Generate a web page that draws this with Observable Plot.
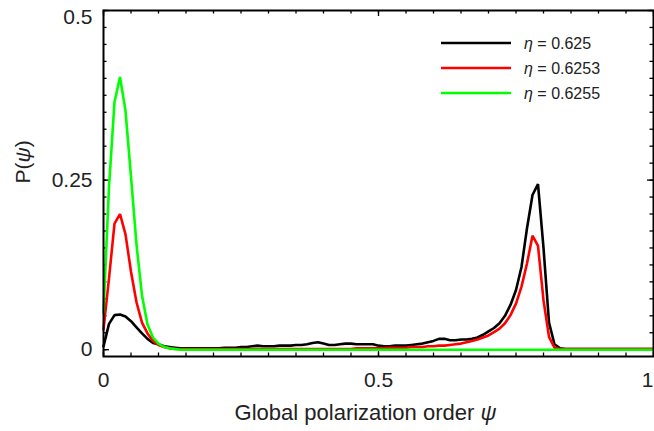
<!DOCTYPE html>
<html>
<head>
<meta charset="utf-8">
<script src="https://cdn.jsdelivr.net/npm/d3@7"></script>
<script src="https://cdn.jsdelivr.net/npm/@observablehq/plot@0.6"></script>
<style>
  body { margin: 0; background: #fff; }
  #chart svg { display: block; }
</style>
</head>
<body>
<div id="chart"></div>
<script>
// Histogram bins of the global polarization order, psi = 0.00 ... 1.00
const psi = d3.range(101).map(i => i / 100);

// P(psi) for eta = 0.625
const p0625 = [
  0.005, 0.038, 0.051, 0.052, 0.049, 0.042, 0.033, 0.024, 0.016, 0.010,
  0.008, 0.005, 0.004, 0.003, 0.002, 0.002, 0.002, 0.002, 0.002, 0.002,
  0.002, 0.002, 0.003, 0.003, 0.003, 0.004, 0.004, 0.005, 0.006, 0.005,
  0.005, 0.005, 0.006, 0.006, 0.006, 0.007, 0.007, 0.008, 0.010, 0.011,
  0.009, 0.007, 0.007, 0.008, 0.009, 0.009, 0.008, 0.008, 0.008, 0.008,
  0.006, 0.005, 0.005, 0.006, 0.006, 0.006, 0.007, 0.008, 0.009, 0.011,
  0.013, 0.016, 0.016, 0.014, 0.014, 0.015, 0.015, 0.016, 0.018, 0.022,
  0.027, 0.032, 0.039, 0.050, 0.066, 0.088, 0.122, 0.179, 0.228, 0.244,
  0.150, 0.040, 0.008, 0.002, 0.001, 0.001, 0.001, 0.001, 0.001, 0.001,
  0.001, 0.001, 0.001, 0.001, 0.001, 0.001, 0.001, 0.001, 0.001, 0.001,
  0.001
];

// P(psi) for eta = 0.6253
const p06253 = [
  0.030, 0.105, 0.186, 0.200, 0.170, 0.115, 0.070, 0.040, 0.024, 0.013,
  0.007, 0.004, 0.002, 0.001, 0.001, 0.001, 0.001, 0.001, 0.001, 0.001,
  0.001, 0.001, 0.001, 0.001, 0.001, 0.001, 0.001, 0.001, 0.001, 0.001,
  0.001, 0.001, 0.001, 0.001, 0.001, 0.001, 0.001, 0.001, 0.001, 0.001,
  0.001, 0.001, 0.001, 0.001, 0.001, 0.001, 0.002, 0.002, 0.002, 0.002,
  0.002, 0.002, 0.003, 0.003, 0.003, 0.003, 0.004, 0.004, 0.004, 0.005,
  0.005, 0.006, 0.006, 0.007, 0.008, 0.009, 0.011, 0.013, 0.015, 0.018,
  0.021, 0.026, 0.031, 0.039, 0.051, 0.068, 0.093, 0.127, 0.168, 0.153,
  0.073, 0.019, 0.003, 0.001, 0.001, 0.001, 0.001, 0.001, 0.001, 0.001,
  0.001, 0.001, 0.001, 0.001, 0.001, 0.001, 0.001, 0.001, 0.001, 0.001,
  0.001
];

// P(psi) for eta = 0.6255
const p06255 = [
  0.055, 0.240, 0.365, 0.402, 0.352, 0.255, 0.155, 0.080, 0.037, 0.018,
  0.009, 0.004, 0.002, 0.001, 0.000, 0.000, 0.000, 0.000, 0.000, 0.000,
  0.000, 0.000, 0.000, 0.000, 0.000, 0.000, 0.000, 0.000, 0.000, 0.000,
  0.000, 0.000, 0.000, 0.000, 0.000, 0.000, 0.000, 0.000, 0.000, 0.000,
  0.000, 0.000, 0.000, 0.000, 0.000, 0.000, 0.000, 0.000, 0.000, 0.000,
  0.000, 0.000, 0.000, 0.000, 0.000, 0.000, 0.000, 0.000, 0.000, 0.000,
  0.000, 0.000, 0.000, 0.000, 0.000, 0.000, 0.000, 0.000, 0.000, 0.000,
  0.000, 0.000, 0.000, 0.000, 0.000, 0.000, 0.000, 0.000, 0.000, 0.000,
  0.000, 0.000, 0.000, 0.000, 0.000, 0.000, 0.000, 0.000, 0.000, 0.000,
  0.000, 0.000, 0.000, 0.000, 0.000, 0.000, 0.000, 0.000, 0.000, 0.000,
  0.000
];

const etaLabels = ["0.625", "0.6253", "0.6255"];
const etaColors = ["#000000", "#ff0000", "#00ff00"];
const seriesValues = [p0625, p06253, p06255];

const xTickValues = [0, 0.5, 1];
const yTickValues = [0, 0.25, 0.5];
const xMinorTicks = d3.range(0, 1.0001, 0.05);
const yMinorTicks = d3.range(0, 0.5001, 0.025);

const rows = etaLabels.flatMap((eta, s) =>
  psi.map((x, i) => ({eta, psi: x, p: seriesValues[s][i]}))
);

const W = 654, H = 431;
const M = {top: 10, right: 1, bottom: 75, left: 103};
const FW = W - M.left - M.right;   // frame width
const FH = H - M.top - M.bottom;   // frame height
const FONT = "'Liberation Sans', Arial, Helvetica, sans-serif";
const INK = "#222";
const fmt = d3.format("~g");

const major = 6, minor = 3.5;
const tickStyle = {stroke: "#000", strokeWidth: 1.3};

const chart = Plot.plot({
  width: W,
  height: H,
  marginTop: M.top,
  marginRight: M.right,
  marginBottom: M.bottom,
  marginLeft: M.left,
  style: {fontFamily: FONT, fontSize: "21px", color: INK, background: "#fff"},
  x: {domain: [0, 1]},
  y: {domain: [-0.01, 0.5]},
  color: {domain: etaLabels, range: etaColors},
  marks: [
    // inward ticks on all four sides
    Plot.tickX(xMinorTicks, {x: d => d, insetTop: FH - minor, ...tickStyle}),
    Plot.tickX(xMinorTicks, {x: d => d, insetBottom: FH - minor, ...tickStyle}),
    Plot.tickX(xTickValues, {x: d => d, insetTop: FH - major, ...tickStyle}),
    Plot.tickX(xTickValues, {x: d => d, insetBottom: FH - major, ...tickStyle}),
    Plot.tickY(yMinorTicks, {y: d => d, insetRight: FW - minor, ...tickStyle}),
    Plot.tickY(yMinorTicks, {y: d => d, insetLeft: FW - minor, ...tickStyle}),
    Plot.tickY(yTickValues, {y: d => d, insetRight: FW - major, ...tickStyle}),
    Plot.tickY(yTickValues, {y: d => d, insetLeft: FW - major, ...tickStyle}),
    // tick labels; the outermost ones are nudged inside the page
    Plot.axisX(xTickValues.slice(0, -1), {tickSize: 0, tickPadding: 16, label: null, tickFormat: fmt, fill: INK, fontSize: 21}),
    Plot.axisX(xTickValues.slice(-1), {tickSize: 0, tickPadding: 16, label: null, tickFormat: fmt, fill: INK, fontSize: 21, dx: -6}),
    Plot.axisY(yTickValues.slice(0, -1), {tickSize: 0, tickPadding: 11, label: null, tickFormat: fmt, fill: INK, fontSize: 21}),
    Plot.axisY(yTickValues.slice(-1), {tickSize: 0, tickPadding: 11, label: null, tickFormat: fmt, fill: INK, fontSize: 21, dy: 7}),
    // distributions
    Plot.line(rows, {x: "psi", y: "p", z: "eta", stroke: "eta", strokeWidth: 2.6, strokeLinejoin: "miter"}),
    Plot.frame({stroke: "#000", strokeWidth: 2}),
    // axis titles
    Plot.text(["Global polarization order ψ"], {
      frameAnchor: "bottom", lineAnchor: "bottom", dy: 63, dx: -13,
      fontSize: 22, fill: INK, className: "x-title"
    }),
    Plot.text(["P(ψ)"], {
      frameAnchor: "left", dx: -80, rotate: -90,
      fontSize: 21, fill: INK, className: "y-title"
    })
  ]
});

document.getElementById("chart").appendChild(chart);
const svg = d3.select(chart);

// italic Greek letters inside the axis titles
function italicizeGreek(sel, pattern) {
  sel.each(function () {
    const t = d3.select(this);
    const s = t.text();
    t.text(null);
    s.split(pattern).forEach(part => {
      if (!part) return;
      const ts = t.append("tspan").text(part);
      if (pattern.test(part)) ts.attr("font-style", "italic");
    });
  });
}
italicizeGreek(svg.selectAll(".x-title text, .y-title text"), /([ψη])/);

// legend in the upper right of the frame
const legend = svg.append("g")
  .attr("font-family", FONT)
  .attr("font-size", 16)
  .attr("text-anchor", "start")
  .attr("fill", INK);
etaLabels.forEach((eta, i) => {
  const y = 43 + i * 25;
  legend.append("line")
    .attr("x1", 441).attr("x2", 511).attr("y1", y).attr("y2", y)
    .attr("stroke", etaColors[i]).attr("stroke-width", 2.6);
  const t = legend.append("text").attr("x", 524).attr("y", y + 5.5);
  t.append("tspan").attr("font-style", "italic").text("η");
  t.append("tspan").text(" = " + eta);
});
</script>
</body>
</html>
